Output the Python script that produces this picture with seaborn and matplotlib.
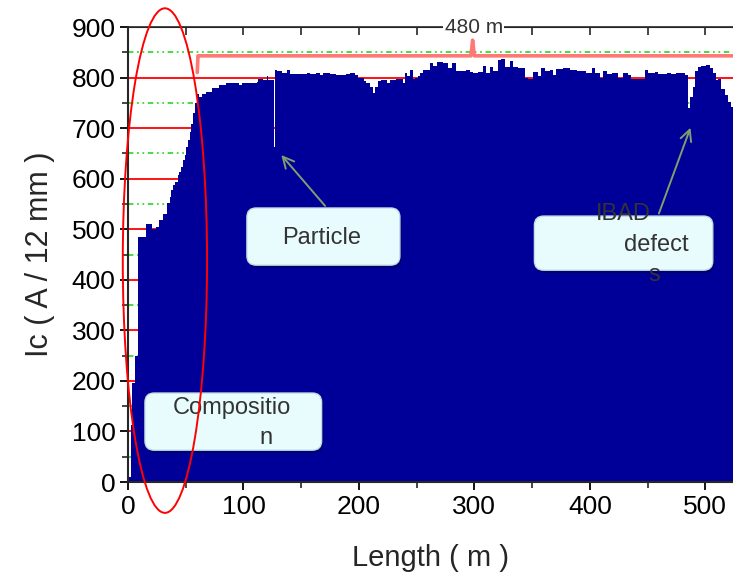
import numpy as np
import pandas as pd
import matplotlib
matplotlib.use("Agg")
import matplotlib.pyplot as plt
from matplotlib.patches import Ellipse, FancyBboxPatch
import seaborn as sns

# Ic profile: each segment starts at seg_start (m) and holds seg_ic
seg_start = [0, 1, 2.5, 3.5, 6, 9, 16, 21, 24, 27, 30, 34, 36, 37.5, 39, 41, 43, 44.5, 46,
             47.5, 49, 50.5, 52, 53.5, 55, 56.5, 58, 59.5, 61.5, 64, 68, 73, 79, 85, 96, 99,
             112, 113, 117, 120, 121.5, 126.5, 127.5, 129, 133, 137.5, 140, 155, 157.5, 163,
             166, 169, 175, 180.5, 189, 192, 196.5, 199.5, 204, 206.5, 209.5, 212, 214, 216.5,
             219.5, 224, 227, 232.5, 238.5, 240, 241.5, 244, 247, 248.5, 251.5, 253, 255.5,
             258.5, 261.5, 264.5, 267.5, 273, 277.5, 280.5, 284.5, 293, 296, 299, 303.5, 307.5,
             310.5, 313.5, 316.5, 320.5, 323.5, 326.5, 330.5, 333.5, 338, 343.5, 346.5, 351,
             355.5, 358, 361, 365.5, 368.5, 371, 377, 383, 388.5, 391.5, 397, 401.5, 404.5,
             408.5, 411.5, 414.5, 419, 424.5, 429, 433, 436, 447.5, 450.5, 456.5, 459, 466.5,
             470.5, 475, 482.5, 485, 486.5, 489, 491, 494, 496.5, 501, 504, 507, 509.5, 511,
             514, 517, 520, 522.5]
seg_ic = [0, 10, 113, 196, 250, 485, 510, 500, 505, 518, 531, 551, 564, 577, 587, 594, 607,
          614, 624, 637, 647, 663, 676, 693, 709, 729, 749, 768, 762, 768, 772, 779, 785, 789,
          785, 790, 792, 798, 795, 803, 796, 663, 814, 812, 810, 814, 807, 810, 808, 810, 805,
          810, 808, 806, 808, 810, 806, 800, 793, 789, 782, 770, 782, 793, 795, 789, 796, 798,
          789, 810, 803, 815, 798, 800, 804, 809, 814, 815, 828, 823, 830, 828, 818, 828, 813,
          815, 811, 810, 811, 823, 810, 821, 813, 834, 836, 821, 832, 820, 818, 800, 798, 811,
          804, 819, 812, 815, 806, 817, 818, 815, 812, 813, 810, 818, 810, 800, 812, 808, 810,
          800, 810, 805, 798, 814, 810, 811, 808, 810, 808, 810, 805, 739, 762, 782, 812, 820,
          823, 825, 818, 810, 796, 798, 778, 765, 752, 742]
seg_end = 526

# upper trace (pink line) with the 480 m marker spike
trace_x = [60, 60.6, 61.2, 297, 298.5, 300, 526]
trace_y = [810, 843, 843, 843, 874, 843, 843]

df = pd.DataFrame({"start": seg_start, "ic": seg_ic})
edges = seg_start + [seg_end]

sns.set_style("ticks")
plt.rcParams["font.family"] = ["Liberation Sans", "DejaVu Sans"]

fig = plt.figure(figsize=(7.33, 5.77), dpi=100)
ax = fig.add_axes([0.1746, 0.1646, 0.8254, 0.7886])

# grid: red solid at major, green dash-dot-dot at minor
for v in range(100, 900, 100):
    ax.axhline(v, color="red", lw=1.3, zorder=0)
for v in range(50, 900, 100):
    ax.axhline(v, color="#33dd33", lw=1.3, ls=(0, (3, 2, 1, 2, 1, 2)), zorder=0)

sns.histplot(data=df, x="start", weights="ic", bins=edges, element="step",
             fill=True, color="#000099", alpha=1, linewidth=0, ax=ax, zorder=2)

sns.lineplot(x=trace_x, y=trace_y, color="#ff7777", lw=2.6, ax=ax, zorder=3)

ax.set_xlim(0, 524)
ax.set_ylim(0, 900)
ax.set_xticks(range(0, 501, 100))
ax.set_xticks(range(50, 524, 100), minor=True)
ax.set_yticks(range(0, 901, 100))
ax.set_yticks(range(50, 900, 100), minor=True)
ax.tick_params(which="major", direction="out", length=6, width=1.3, labelsize=19,
               colors="black", pad=3)
ax.tick_params(which="minor", direction="out", length=4, width=1.2)
ax.spines["right"].set_visible(False)
ax.spines["left"].set_linewidth(1.5)
ax.spines["bottom"].set_linewidth(1.5)
ax.spines["top"].set_linewidth(1.2)

top = ax.secondary_xaxis("top")
top.set_xticks(range(0, 524, 50))
top.tick_params(direction="in", length=6, width=1.2, labeltop=False)

ax.set_xlabel("Length ( m )", fontsize=21, labelpad=18)
ax.set_ylabel("Ic ( A / 12 mm )", fontsize=22, labelpad=12)

ax.text(299.5, 900, "480 m", ha="center", va="center", fontsize=15, color="#333333",
        bbox=dict(facecolor="white", edgecolor="none", pad=1), zorder=6, clip_on=False)

ax.add_patch(Ellipse((32, 438), 73, 998, fill=False, edgecolor="red", lw=1.4,
                     clip_on=False, zorder=7))

# annotation boxes, with a soft shadow under each
box_kw = dict(boxstyle="round,pad=0,rounding_size=8", mutation_aspect=2.28)
for (x0, y0, w, h) in [(103, 429, 132.5, 113), (14.7, 63, 153, 113), (352, 419, 154.5, 107)]:
    ax.add_patch(FancyBboxPatch((x0 + 1.5, y0 - 6), w, h, facecolor="#000033", alpha=0.35,
                                edgecolor="none", zorder=4.5, **box_kw))
    ax.add_patch(FancyBboxPatch((x0, y0), w, h, facecolor="#e8fcfd", edgecolor="#c5dfe3",
                                lw=1, zorder=5, **box_kw))

txt = dict(fontsize=17, color="#333333", ha="center", va="center", zorder=6)
ax.text(168, 483, "Particle", **txt)
ax.text(90, 146, "Compositio", **txt)
ax.text(119.5, 87, "n", **txt)
ax.text(429, 530, "IBAD", **txt)
ax.text(458, 469, "defect", **txt)
ax.text(456, 409, "s", **txt)

arrow = dict(arrowstyle="->,head_length=0.8,head_width=0.4", color="#7f9f6f", lw=1.4)
ax.annotate("", xy=(131.2, 651), xytext=(172.3, 542), arrowprops=arrow, zorder=6)
ax.annotate("", xy=(488, 706), xytext=(459, 526), arrowprops=arrow, zorder=6)

fig.savefig("out.png", dpi=100)
